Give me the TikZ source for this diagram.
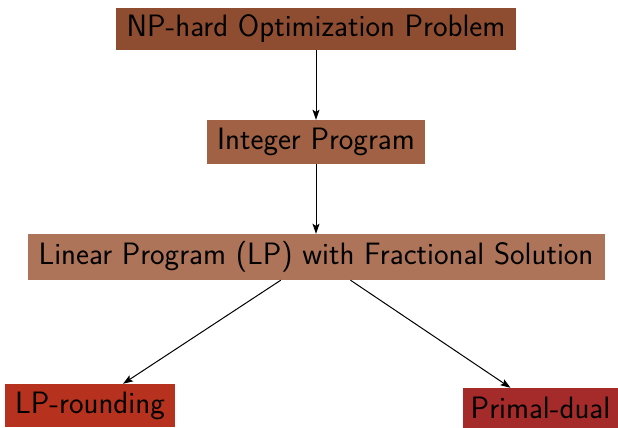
\documentclass[tikz,border=0pt]{standalone}
\usetikzlibrary{arrows.meta}
\definecolor{cnp}{RGB}{142,77,48}
\definecolor{cip}{RGB}{160,97,68}
\definecolor{clp}{RGB}{174,116,89}
\definecolor{crd}{RGB}{183,50,30}
\definecolor{cpd}{RGB}{165,42,42}
\begin{document}
\begin{tikzpicture}[x=1pt,y=-1pt,
  box/.style={inner sep=0pt, text=black, font=\fontsize{30.9}{36}\selectfont\sffamily},
  conn/.style={-{Stealth[length=10pt,width=7pt,inset=2pt]}, line width=1pt, black}]
\useasboundingbox (0,0) rectangle (618,428);
\node[box, fill=cnp, minimum width=400pt, minimum height=42pt] (np) at (316,29) {NP-hard Optimization Problem};
\node[box, fill=cip, minimum width=218pt, minimum height=44pt] (ip) at (316,142) {Integer Program};
\node[box, fill=clp, minimum width=577pt, minimum height=46pt] (lp) at (316,257) {Linear Program (LP) with Fractional Solution};
\node[box, fill=crd, minimum width=170pt, minimum height=43pt] (rd) at (90,405.5) {LP-rounding};
\node[box, fill=cpd, minimum width=155pt, minimum height=40pt] (pd) at (540.5,408) {Primal-dual};
\draw[conn] (np) -- (ip);
\draw[conn] (ip) -- (lp);
\draw[conn] (lp) -- (rd);
\draw[conn] (lp) -- (pd);
\end{tikzpicture}
\end{document}
